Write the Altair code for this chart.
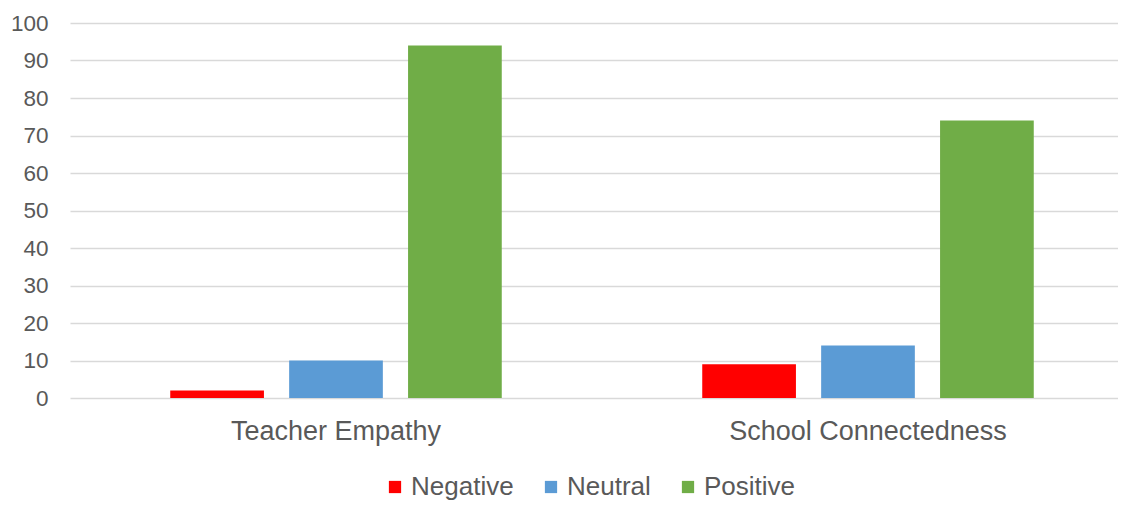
import altair as alt
import pandas as pd

categories = ["Teacher Empathy", "School Connectedness"]
sentiments = ["Negative", "Neutral", "Positive"]
negative = [2, 9]
neutral = [10, 14]
positive = [94, 74]
colors = ["#FF0000", "#5B9BD5", "#70AD47"]

rows = []
for i, c in enumerate(categories):
    for s, vals in zip(sentiments, [negative, neutral, positive]):
        rows.append({"category": c, "sentiment": s, "value": vals[i]})
df = pd.DataFrame(rows)

FONT = "Liberation Sans"
GREY = "#595959"

chart = alt.Chart(df).mark_bar().encode(
    x=alt.X("category:N", sort=categories,
            scale=alt.Scale(range=[0, 1064], paddingInner=0, paddingOuter=0),
            axis=alt.Axis(title=None, labelAngle=0, ticks=False, domain=False,
                          labelFontSize=27, labelColor=GREY, labelFont=FONT,
                          labelPadding=20, labelLimit=1000)),
    xOffset=alt.XOffset("sentiment:N", sort=sentiments,
                        scale=alt.Scale(paddingInner=0.212, paddingOuter=0.843)),
    y=alt.Y("value:Q", scale=alt.Scale(domain=[0, 100]),
            axis=alt.Axis(title=None, values=list(range(0, 101, 10)), ticks=False,
                          domain=False, labelFontSize=22.5, labelColor=GREY,
                          labelFont=FONT, labelPadding=22, gridColor="#D9D9D9",
                          gridWidth=1.5)),
    color=alt.Color("sentiment:N", sort=sentiments,
                    scale=alt.Scale(domain=sentiments, range=colors),
                    legend=alt.Legend(title=None, orient="none", direction="horizontal",
                                      legendX=312, legendY=451, padding=0,
                                      symbolType="square", symbolSize=150,
                                      symbolStrokeWidth=0, labelFontSize=26,
                                      labelColor=GREY, labelFont=FONT, labelOffset=3,
                                      columnPadding=24)),
).properties(
    width=1048, height=375,
    autosize=alt.AutoSizeParams(type="none"),
    padding={"top": 15, "left": 62, "right": 0, "bottom": 103}
).configure_view(stroke=None)

chart.save("out.html", embed_options={"renderer": "svg", "actions": False})
